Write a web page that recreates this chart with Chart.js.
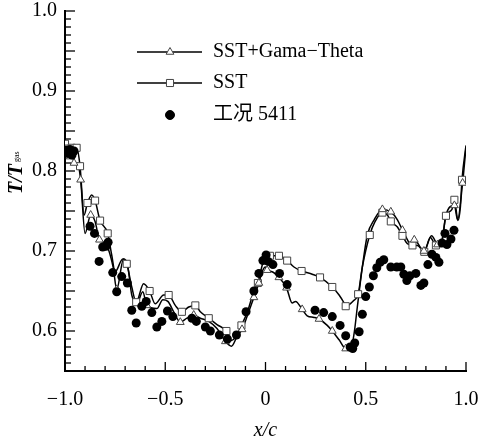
<!DOCTYPE html>
<html>
<head>
<meta charset="utf-8">
<script src="https://cdn.jsdelivr.net/npm/chart.js@4.4.0/dist/chart.umd.min.js"></script>
<style>
  html, body { margin: 0; padding: 0; background: #fff; }
  canvas { display: block; }
</style>
</head>
<body>
<canvas id="graficoTemp" width="478" height="444"></canvas>
<script>
// [x/c, T/Tgas]
const gtMarks = [
  [-1.0, 0.822], [-0.975, 0.818], [-0.955, 0.81], [-0.922, 0.789], [-0.872, 0.745],
  [-0.828, 0.714], [-0.742, 0.652], [-0.592, 0.632], [-0.425, 0.611], [-0.358, 0.62],
  [-0.2, 0.587], [-0.117, 0.602], [-0.058, 0.642], [-0.033, 0.66], [0.008, 0.676],
  [0.067, 0.667], [0.105, 0.654], [0.183, 0.627], [0.267, 0.615], [0.333, 0.6],
  [0.40, 0.578], [0.583, 0.752], [0.625, 0.749], [0.683, 0.726], [0.742, 0.714],
  [0.79, 0.70], [0.858, 0.708], [0.942, 0.757], [0.983, 0.785]
];
const gtBends = [
  [-0.99, 0.826], [-0.965, 0.825], [-0.94, 0.81], [-0.9, 0.722], [-0.85, 0.737],
  [-0.80, 0.71], [-0.76, 0.68], [-0.708, 0.69], [-0.69, 0.685], [-0.667, 0.645],
  [-0.642, 0.634], [-0.612, 0.649], [-0.542, 0.628], [-0.512, 0.639], [-0.487, 0.637],
  [-0.458, 0.624], [-0.392, 0.616], [-0.325, 0.616], [-0.283, 0.612], [-0.242, 0.603],
  [-0.17, 0.581], [-0.142, 0.593], [-0.092, 0.618], [-0.017, 0.674], [0.0, 0.68],
  [0.033, 0.674], [0.133, 0.635], [0.15, 0.637], [0.208, 0.619], [0.242, 0.617],
  [0.308, 0.607], [0.367, 0.589], [0.425, 0.578], [0.442, 0.597], [0.458, 0.63],
  [0.483, 0.68], [0.508, 0.72], [0.542, 0.739], [0.658, 0.739], [0.708, 0.714],
  [0.725, 0.707], [0.828, 0.719], [0.875, 0.707], [0.9, 0.745], [0.958, 0.739],
  [1.0, 0.83]
];
const sstMarks = [
  [-1.0, 0.834], [-0.99, 0.828], [-0.967, 0.829], [-0.942, 0.829], [-0.925, 0.806],
  [-0.888, 0.76], [-0.85, 0.763], [-0.825, 0.738], [-0.787, 0.722], [-0.692, 0.684],
  [-0.645, 0.636], [-0.578, 0.65], [-0.483, 0.645], [-0.417, 0.624], [-0.35, 0.632],
  [-0.283, 0.616], [-0.195, 0.60], [-0.12, 0.607], [-0.038, 0.66], [0.022, 0.694],
  [0.067, 0.694], [0.108, 0.688], [0.18, 0.675], [0.272, 0.667], [0.333, 0.655],
  [0.40, 0.631], [0.462, 0.646], [0.52, 0.72], [0.583, 0.748], [0.625, 0.737],
  [0.683, 0.719], [0.733, 0.707], [0.792, 0.699], [0.85, 0.707], [0.9, 0.744],
  [0.942, 0.764], [0.98, 0.789]
];
const sstBends = [
  [-0.975, 0.822], [-0.955, 0.826], [-0.905, 0.745], [-0.867, 0.77], [-0.767, 0.695],
  [-0.75, 0.674], [-0.712, 0.69], [-0.667, 0.655], [-0.608, 0.659], [-0.55, 0.634],
  [-0.508, 0.645], [-0.45, 0.632], [-0.383, 0.63], [-0.325, 0.624], [-0.242, 0.608],
  [-0.17, 0.588], [-0.15, 0.592], [-0.09, 0.624], [-0.06, 0.648], [-0.008, 0.689],
  [0.142, 0.68], [0.233, 0.671], [0.367, 0.645], [0.392, 0.635], [0.44, 0.638],
  [0.483, 0.68], [0.545, 0.736], [0.608, 0.745], [0.658, 0.73], [0.708, 0.709],
  [0.758, 0.707], [0.822, 0.717], [0.872, 0.707], [0.885, 0.72], [0.93, 0.752],
  [0.96, 0.738], [0.972, 0.755], [1.0, 0.832]
];
const expPoints = [
  [-0.995, 0.826], [-0.985, 0.822], [-0.975, 0.827], [-0.965, 0.82], [-0.955, 0.825],
  [-0.875, 0.731], [-0.853, 0.722], [-0.83, 0.687], [-0.812, 0.705], [-0.795, 0.706],
  [-0.785, 0.711], [-0.762, 0.673], [-0.742, 0.649], [-0.717, 0.668], [-0.689, 0.660],
  [-0.667, 0.626], [-0.645, 0.610], [-0.617, 0.631], [-0.595, 0.637], [-0.567, 0.623],
  [-0.542, 0.605], [-0.517, 0.612], [-0.489, 0.625], [-0.462, 0.618], [-0.367, 0.616],
  [-0.345, 0.612], [-0.30, 0.605], [-0.275, 0.600], [-0.23, 0.595], [-0.19, 0.590],
  [-0.145, 0.595], [-0.097, 0.624], [-0.058, 0.650], [-0.033, 0.672], [-0.013, 0.688],
  [0.003, 0.695], [0.013, 0.687], [0.037, 0.683], [0.07, 0.672], [0.108, 0.658],
  [0.247, 0.626], [0.29, 0.623], [0.333, 0.618], [0.372, 0.607], [0.40, 0.594],
  [0.422, 0.580], [0.435, 0.578], [0.445, 0.585], [0.467, 0.599], [0.483, 0.621],
  [0.50, 0.643], [0.518, 0.655], [0.538, 0.669], [0.555, 0.679], [0.572, 0.686],
  [0.59, 0.689], [0.625, 0.680], [0.655, 0.680], [0.675, 0.680], [0.69, 0.671],
  [0.705, 0.663], [0.72, 0.669], [0.75, 0.672], [0.775, 0.657], [0.79, 0.660],
  [0.81, 0.683], [0.83, 0.696], [0.85, 0.692], [0.865, 0.686], [0.88, 0.710],
  [0.895, 0.722], [0.905, 0.708], [0.925, 0.715], [0.94, 0.726]
];

const seriesNames = ['SST+Gama\u2212Theta', 'SST', '工况 5411'];
const xLabelValues = [-1, -0.5, 0, 0.5, 1];
const xLabelTexts = ['\u22121.0', '\u22120.5', '0', '0.5', '1.0'];
const yLabelValues = [0.6, 0.7, 0.8, 0.9, 1.0];
const yLabelTexts = ['0.6', '0.7', '0.8', '0.9', '1.0'];

const FONTE = '"Liberation Serif", "Noto Sans CJK SC", serif';

const toXY = arr => arr.map(([x, y]) => ({ x, y }));
const lineOf = (marks, bends) => toXY([...marks, ...bends].sort((a, b) => a[0] - b[0]));
const labelFor = (vals, texts) => v => {
  const i = vals.findIndex(t => Math.abs(t - v) < 1e-6);
  return i >= 0 ? texts[i] : '';
};

const markStyle = { pointBackgroundColor: '#fff', pointBorderColor: '#444', pointBorderWidth: 1 };

// marcas dos eixos para dentro, titulos e legenda
const extras = {
  id: 'extras',
  afterDraw(chart) {
    const { ctx, chartArea: area, scales: { x, y } } = chart;
    ctx.save();
    ctx.strokeStyle = '#000';
    ctx.lineWidth = 1.3;
    x.ticks.forEach(t => {
      const px = x.getPixelForValue(t.value);
      const major = Math.abs(t.value * 2 - Math.round(t.value * 2)) < 1e-6;
      ctx.beginPath();
      ctx.moveTo(px, area.bottom);
      ctx.lineTo(px, area.bottom - (major ? 9 : 5));
      ctx.stroke();
    });
    y.ticks.forEach(t => {
      const py = y.getPixelForValue(t.value);
      const major = Math.abs(t.value * 20 - Math.round(t.value * 20)) < 1e-6;
      ctx.beginPath();
      ctx.moveTo(area.left, py);
      ctx.lineTo(area.left + (major ? 10 : 6), py);
      ctx.stroke();
    });

    // titulo x
    ctx.fillStyle = '#000';
    ctx.font = 'italic 20px ' + FONTE;
    ctx.textAlign = 'center';
    ctx.textBaseline = 'middle';
    ctx.fillText('x/c', (area.left + area.right) / 2, 431);

    // titulo y
    ctx.save();
    ctx.translate(22, 194);
    ctx.rotate(-Math.PI / 2);
    ctx.textAlign = 'left';
    ctx.textBaseline = 'alphabetic';
    ctx.font = 'italic bold 20px ' + FONTE;
    ctx.fillText('T/T', 0, 0);
    const w = ctx.measureText('T/T').width;
    ctx.font = '8px ' + FONTE;
    ctx.fillText('gas', w + 2, -3);
    ctx.restore();

    // legenda
    const rows = [52, 83, 115];
    const styles = [
      { pointStyle: 'triangle', radius: 4.5, fill: '#fff', stroke: '#444', line: true },
      { pointStyle: 'rect', radius: 5, fill: '#fff', stroke: '#444', line: true },
      { pointStyle: 'circle', radius: 4.5, fill: '#000', stroke: '#000', line: false }
    ];
    rows.forEach((ry, i) => {
      const s = styles[i];
      if (s.line) {
        ctx.strokeStyle = '#000';
        ctx.lineWidth = 1.5;
        ctx.beginPath();
        ctx.moveTo(137, ry);
        ctx.lineTo(202, ry);
        ctx.stroke();
      }
      ctx.fillStyle = s.fill;
      ctx.strokeStyle = s.stroke;
      ctx.lineWidth = 1;
      Chart.helpers.drawPoint(ctx, { pointStyle: s.pointStyle, radius: s.radius, borderWidth: 1, rotation: 0 }, 170, ry);
      ctx.fillStyle = '#000';
      ctx.font = '20px ' + FONTE;
      ctx.textAlign = 'left';
      ctx.textBaseline = 'middle';
      ctx.fillText(seriesNames[i], 213, ry);
    });
    ctx.restore();
  }
};

const ctx = document.getElementById('graficoTemp').getContext('2d');

new Chart(ctx, {
  type: 'scatter',
  data: {
    datasets: [
      {
        label: seriesNames[2],
        data: toXY(expPoints),
        pointStyle: 'circle',
        pointRadius: 4.5,
        pointBackgroundColor: '#000',
        pointBorderColor: '#000',
        pointBorderWidth: 0,
        showLine: false,
        order: 0
      },
      {
        label: seriesNames[0] + ' marcas',
        data: toXY(gtMarks),
        pointStyle: 'triangle',
        pointRadius: 4.5,
        ...markStyle,
        showLine: false,
        order: 1
      },
      {
        label: seriesNames[1] + ' marcas',
        data: toXY(sstMarks),
        pointStyle: 'rect',
        pointRadius: 5,
        ...markStyle,
        showLine: false,
        order: 1
      },
      {
        label: seriesNames[0],
        data: lineOf(gtMarks, gtBends),
        showLine: true,
        borderColor: '#000',
        borderWidth: 1.5,
        pointRadius: 0,
        cubicInterpolationMode: 'monotone',
        order: 2
      },
      {
        label: seriesNames[1],
        data: lineOf(sstMarks, sstBends),
        showLine: true,
        borderColor: '#000',
        borderWidth: 1.5,
        pointRadius: 0,
        cubicInterpolationMode: 'monotone',
        order: 2
      }
    ]
  },
  options: {
    responsive: false,
    animation: false,
    layout: { padding: { top: 11, right: 12, left: 0, bottom: 0 } },
    plugins: {
      legend: { display: false },
      tooltip: { enabled: false }
    },
    scales: {
      x: {
        type: 'linear',
        min: -1,
        max: 1,
        afterFit: s => {
          s.height = 73;
          s.paddingLeft = 0;
          s.paddingRight = 0;
        },
        grid: { display: false, drawTicks: false },
        border: { display: true, color: '#000', width: 2 },
        ticks: {
          stepSize: 0.1,
          autoSkip: false,
          maxRotation: 0,
          padding: 19,
          color: '#000',
          font: { family: FONTE, size: 20, lineHeight: 1 },
          callback: labelFor(xLabelValues, xLabelTexts)
        }
      },
      y: {
        type: 'linear',
        min: 0.55,
        max: 1.0,
        afterFit: s => {
          s.width = 65;
          s.paddingTop = 0;
          s.paddingBottom = 0;
        },
        grid: { display: false, drawTicks: false },
        border: { display: true, color: '#000', width: 2 },
        ticks: {
          stepSize: 0.01,
          autoSkip: false,
          padding: 8,
          color: '#000',
          font: { family: FONTE, size: 20, lineHeight: 1 },
          callback: labelFor(yLabelValues, yLabelTexts)
        }
      }
    }
  },
  plugins: [extras]
});
</script>
</body>
</html>
